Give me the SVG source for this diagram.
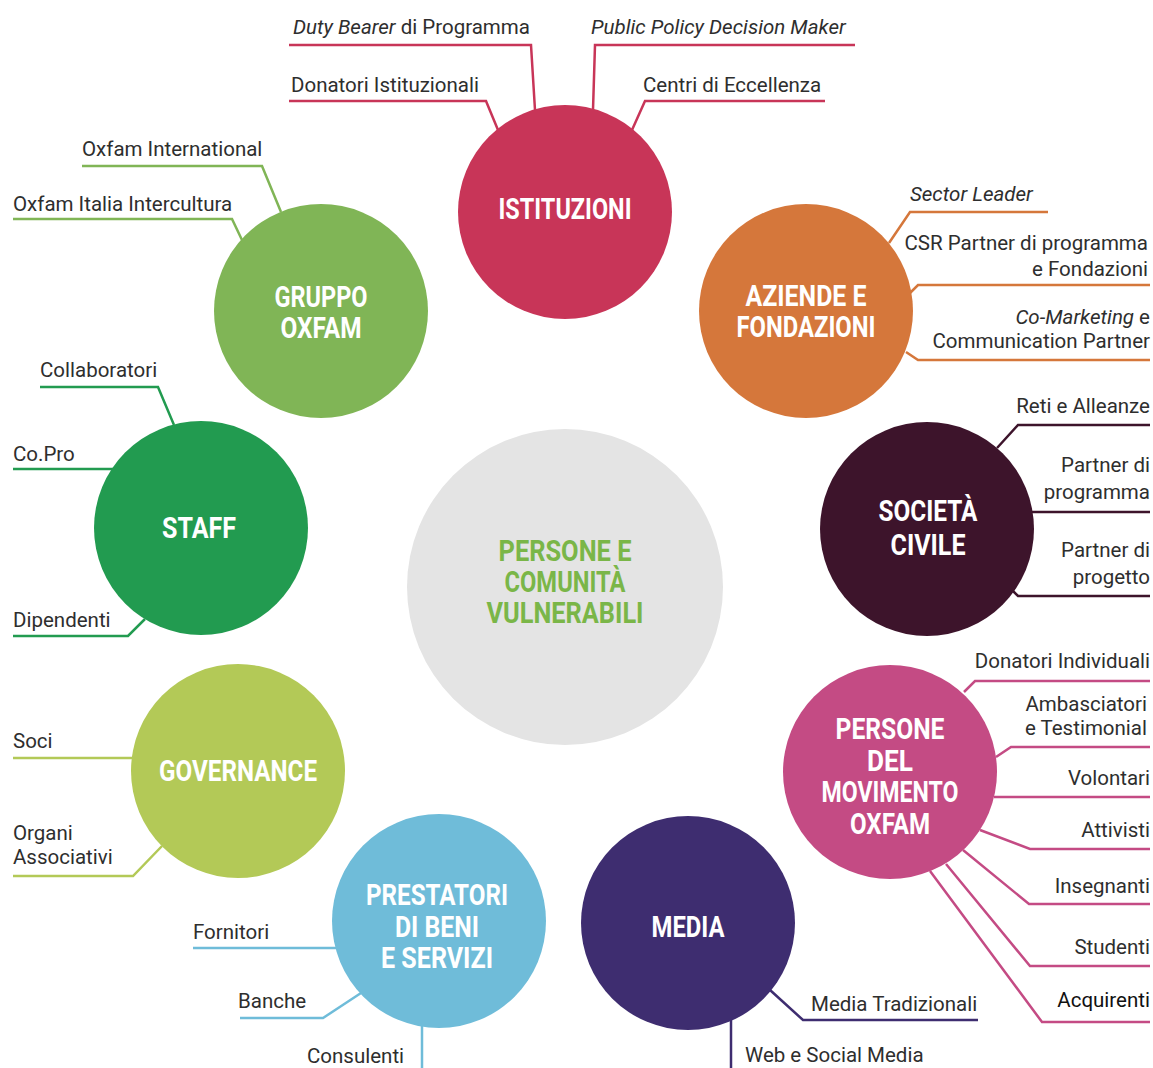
<svg xmlns="http://www.w3.org/2000/svg" width="1153" height="1068" viewBox="0 0 1153 1068">
<style>
.lbl{font-family:Roboto,"Liberation Sans",sans-serif;font-size:20.5px;fill:#2e2e2e}
.it{font-style:italic}
.end{text-anchor:end}
.ttl{font-family:Roboto,"Liberation Sans",sans-serif;font-size:30px;font-weight:700;fill:#fff;text-anchor:middle}
.c path{fill:none;stroke-width:2.5;stroke-linejoin:miter}
</style>
<rect width="1153" height="1068" fill="#fff"/>
<g id="connectors" class="c">
  <g stroke="#c83558">
    <path d="M289,45 H531 L535,110"/>
    <path d="M855,45 H595 L593,110"/>
    <path d="M289,101 H486 L498,130"/>
    <path d="M825,101 H645 L632,130"/>
  </g>
  <g stroke="#80b556">
    <path d="M82,166 H262 L281,212"/>
    <path d="M13,219 H232 L242,240"/>
  </g>
  <g stroke="#229b50">
    <path d="M40,387 H158 L174,425"/>
    <path d="M13,469 H113"/>
    <path d="M13,636 H128 L145,619"/>
  </g>
  <g stroke="#b3c957">
    <path d="M13,758 H133"/>
    <path d="M13,876 H133 L162,846"/>
  </g>
  <g stroke="#6fbcd9">
    <path d="M193,948 H336"/>
    <path d="M240,1018 H323 L361,993"/>
    <path d="M422,1068 V1026"/>
  </g>
  <g stroke="#3e2d70">
    <path d="M978,1020 H803 L770,990"/>
    <path d="M731,1068 V1020"/>
  </g>
  <g stroke="#c44b84">
    <path d="M1150,681 H975 L964,692"/>
    <path d="M1150,747 H1011 L996,757"/>
    <path d="M1150,797 H994"/>
    <path d="M1150,849 H1030 L980,830"/>
    <path d="M1150,904 H1029 L963,850"/>
    <path d="M1150,966 H1030 L946,864"/>
    <path d="M1150,1022 H1042 L930,871"/>
  </g>
  <g stroke="#3d142b">
    <path d="M1150,425 H1018 L997,448"/>
    <path d="M1150,512 H1032"/>
    <path d="M1150,596 H1018 L1012,590"/>
  </g>
  <g stroke="#d5773b">
    <path d="M1048,212 H910 L889,243"/>
    <path d="M1150,285 H918 L910,293"/>
    <path d="M1150,360 H918 L906,352"/>
  </g>
</g>

<g id="center">
  <circle cx="565" cy="587" r="158" fill="#e4e4e4"/>
  <text class="ttl" style="fill:#7ab648" x="565" y="561" textLength="133" lengthAdjust="spacingAndGlyphs">PERSONE E</text>
  <text class="ttl" style="fill:#7ab648" x="565" y="592" textLength="121" lengthAdjust="spacingAndGlyphs">COMUNITÀ</text>
  <text class="ttl" style="fill:#7ab648" x="565" y="623" textLength="157" lengthAdjust="spacingAndGlyphs">VULNERABILI</text>
</g>

<g id="istituzioni">
  <circle cx="565" cy="212" r="107" fill="#c83558"/>
  <text class="ttl" x="565" y="219" textLength="133" lengthAdjust="spacingAndGlyphs">ISTITUZIONI</text>
  <text class="lbl" x="293" y="34"><tspan class="it">Duty Bearer</tspan> di Programma</text>
  <text class="lbl it" x="591" y="34">Public Policy Decision Maker</text>
  <text class="lbl" x="291" y="92">Donatori Istituzionali</text>
  <text class="lbl" x="643" y="92">Centri di Eccellenza</text>
</g>

<g id="aziende">
  <circle cx="806" cy="311" r="107" fill="#d5773b"/>
  <text class="ttl" x="806" y="306" textLength="121" lengthAdjust="spacingAndGlyphs">AZIENDE E</text>
  <text class="ttl" x="806" y="337" textLength="139" lengthAdjust="spacingAndGlyphs">FONDAZIONI</text>
  <text class="lbl it" x="910" y="201">Sector Leader</text>
  <text class="lbl end" x="1148" y="250">CSR Partner di programma</text>
  <text class="lbl end" x="1148" y="276">e Fondazioni</text>
  <text class="lbl end" x="1150" y="324"><tspan class="it">Co-Marketing</tspan> e</text>
  <text class="lbl end" x="1150" y="348">Communication Partner</text>
</g>

<g id="societa">
  <circle cx="927" cy="529" r="107" fill="#3d142b"/>
  <text class="ttl" x="928" y="521" textLength="99" lengthAdjust="spacingAndGlyphs">SOCIETÀ</text>
  <text class="ttl" x="928" y="555" textLength="75" lengthAdjust="spacingAndGlyphs">CIVILE</text>
  <text class="lbl end" x="1150" y="413">Reti e Alleanze</text>
  <text class="lbl end" x="1150" y="472">Partner di</text>
  <text class="lbl end" x="1150" y="499">programma</text>
  <text class="lbl end" x="1150" y="557">Partner di</text>
  <text class="lbl end" x="1150" y="584">progetto</text>
</g>

<g id="persone-movimento">
  <circle cx="890" cy="772" r="107" fill="#c44b84"/>
  <text class="ttl" x="890" y="739" textLength="109" lengthAdjust="spacingAndGlyphs">PERSONE</text>
  <text class="ttl" x="890" y="771" textLength="46" lengthAdjust="spacingAndGlyphs">DEL</text>
  <text class="ttl" x="890" y="802" textLength="137" lengthAdjust="spacingAndGlyphs">MOVIMENTO</text>
  <text class="ttl" x="890" y="834" textLength="80" lengthAdjust="spacingAndGlyphs">OXFAM</text>
  <text class="lbl end" x="1150" y="668">Donatori Individuali</text>
  <text class="lbl end" x="1147" y="711">Ambasciatori</text>
  <text class="lbl end" x="1147" y="735">e Testimonial</text>
  <text class="lbl end" x="1150" y="785">Volontari</text>
  <text class="lbl end" x="1150" y="837">Attivisti</text>
  <text class="lbl end" x="1150" y="893">Insegnanti</text>
  <text class="lbl end" x="1150" y="954">Studenti</text>
  <text class="lbl end" x="1150" y="1007" style="fill:#111">Acquirenti</text>
</g>

<g id="media">
  <circle cx="688" cy="923" r="107" fill="#3e2d70"/>
  <text class="ttl" x="688" y="937" textLength="73" lengthAdjust="spacingAndGlyphs">MEDIA</text>
  <text class="lbl" x="811" y="1011">Media Tradizionali</text>
  <text class="lbl" x="745" y="1062">Web e Social Media</text>
</g>

<g id="prestatori">
  <circle cx="439" cy="921" r="107" fill="#6fbcd9"/>
  <text class="ttl" x="437" y="905" textLength="142" lengthAdjust="spacingAndGlyphs">PRESTATORI</text>
  <text class="ttl" x="437" y="937" textLength="84" lengthAdjust="spacingAndGlyphs">DI BENI</text>
  <text class="ttl" x="437" y="968" textLength="112" lengthAdjust="spacingAndGlyphs">E SERVIZI</text>
  <text class="lbl" x="193" y="939">Fornitori</text>
  <text class="lbl" x="238" y="1008">Banche</text>
  <text class="lbl" x="307" y="1063">Consulenti</text>
</g>

<g id="governance">
  <circle cx="238" cy="771" r="107" fill="#b3c957"/>
  <text class="ttl" x="238" y="781" textLength="158" lengthAdjust="spacingAndGlyphs">GOVERNANCE</text>
  <text class="lbl" x="13" y="748">Soci</text>
  <text class="lbl" x="13" y="840">Organi</text>
  <text class="lbl" x="13" y="864">Associativi</text>
</g>

<g id="staff">
  <circle cx="201" cy="528" r="107" fill="#229b50"/>
  <text class="ttl" x="199" y="538" textLength="74" lengthAdjust="spacingAndGlyphs">STAFF</text>
  <text class="lbl" x="40" y="377">Collaboratori</text>
  <text class="lbl" x="13" y="461">Co.Pro</text>
  <text class="lbl" x="13" y="627">Dipendenti</text>
</g>

<g id="gruppo-oxfam">
  <circle cx="321" cy="311" r="107" fill="#80b556"/>
  <text class="ttl" x="321" y="307" textLength="93" lengthAdjust="spacingAndGlyphs">GRUPPO</text>
  <text class="ttl" x="321" y="338" textLength="81" lengthAdjust="spacingAndGlyphs">OXFAM</text>
  <text class="lbl" x="82" y="156">Oxfam International</text>
  <text class="lbl" x="13" y="211">Oxfam Italia Intercultura</text>
</g>
</svg>
